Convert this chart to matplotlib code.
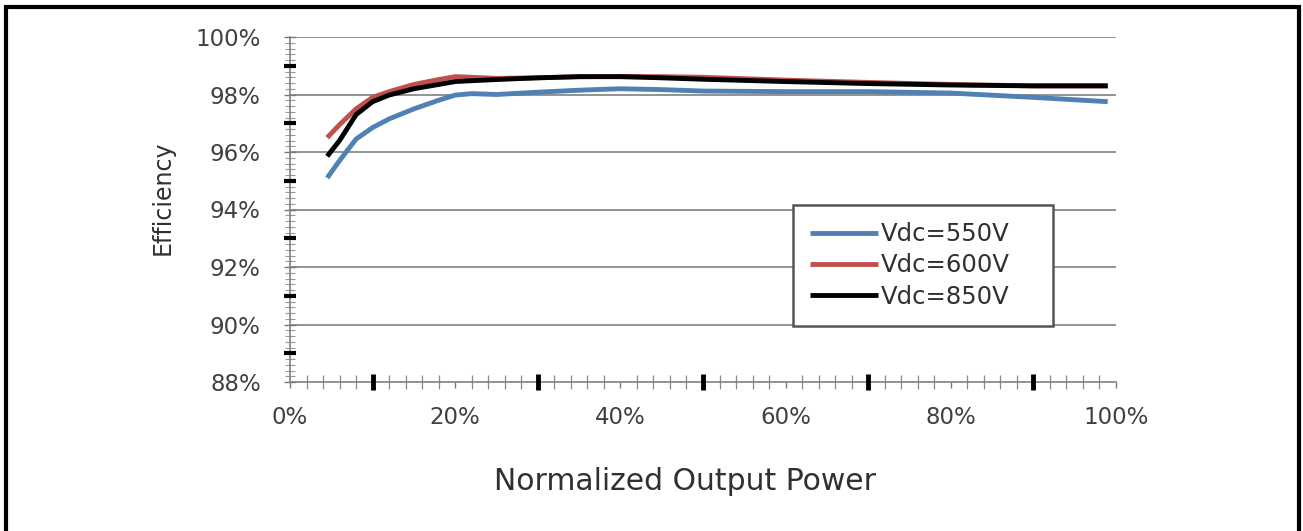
"""Inverter efficiency vs normalized output power."""

import matplotlib
matplotlib.use("Agg")
import matplotlib.pyplot as plt
from matplotlib.ticker import FixedLocator, FuncFormatter, NullFormatter
from matplotlib.patches import Rectangle
import numpy as np

# data
power = [4.5, 6, 8, 10, 12, 15, 18, 20, 22, 25, 30, 35, 40, 45, 50, 60, 70, 80, 90, 99]
eff_550 = [95.1, 95.7, 96.45, 96.85, 97.15, 97.5, 97.8, 97.98, 98.03, 98.0, 98.08, 98.15,
           98.2, 98.17, 98.12, 98.1, 98.1, 98.05, 97.9, 97.75]
eff_600 = [96.5, 96.95, 97.5, 97.9, 98.1, 98.35, 98.52, 98.62, 98.6, 98.56, 98.58, 98.62,
           98.63, 98.62, 98.6, 98.5, 98.42, 98.35, 98.3, 98.3]
eff_850 = [95.85, 96.4, 97.3, 97.75, 97.98, 98.2, 98.35, 98.45, 98.48, 98.52, 98.58, 98.62,
           98.62, 98.58, 98.53, 98.45, 98.38, 98.33, 98.3, 98.3]
labels = ["Vdc=550V", "Vdc=600V", "Vdc=850V"]
colors = ["#4f81b3", "#c0504d", "#000000"]

x_labels = [0, 20, 40, 60, 80, 100]
x_black = [10, 30, 50, 70, 90]
y_labels = [88, 90, 92, 94, 96, 98, 100]
y_black = [89, 91, 93, 95, 97, 99]

W, H = 1303, 531
fig = plt.figure(figsize=(W / 100, H / 100), dpi=100)
ax = fig.add_axes([290 / W, 1 - 382 / H, (1116 - 290) / W, (382 - 37) / H])

for y, c, lab in zip([eff_550, eff_600, eff_850], colors, labels):
    ax.plot(power, y, color=c, lw=3.5, label=lab, solid_capstyle="butt")

ax.set_xlim(0, 100)
ax.set_ylim(88, 100)

# minor ticks, skipping spots that carry a label or a black tick
x_minor = [v for v in np.arange(2, 100, 2) if v not in x_labels + x_black]
y_minor = [v for v in np.round(np.arange(88.2, 100, 0.2), 1) if v not in y_labels + y_black]

ax.yaxis.set_major_locator(FixedLocator(y_labels))
ax.yaxis.set_major_formatter(FuncFormatter(lambda v, p: f"{v:.0f}%"))
ax.yaxis.set_minor_locator(FixedLocator(y_minor))
ax.tick_params(axis="y", which="major", length=8, width=1, direction="inout",
               color="#777777", pad=17, labelsize=16.5, labelcolor="#404040")
ax.tick_params(axis="y", which="minor", length=7, width=0.8, direction="inout", color="#999999")
for v in y_labels[1:]:
    ax.axhline(v, color="#939393", lw=1.4, zorder=0)

ax.xaxis.set_major_locator(FixedLocator(x_labels))
ax.xaxis.set_major_formatter(FuncFormatter(lambda v, p: f"{v:.0f}%"))
ax.xaxis.set_minor_locator(FixedLocator(x_minor))
ax.tick_params(axis="x", which="major", length=4, width=1, direction="out",
               color="#777777", pad=13, labelsize=16.5, labelcolor="#404040")
ax.tick_params(axis="x", which="minor", length=10, width=0.9, direction="inout", color="#8a8a8a")

# thick black ticks at odd positions
sx = ax.secondary_xaxis("bottom")
sx.set_xticks(x_black)
sx.xaxis.set_major_formatter(NullFormatter())
sx.tick_params(length=11, width=3.5, direction="inout", color="black")
sx.spines["bottom"].set_visible(False)
sx.set_zorder(3)
sy = ax.secondary_yaxis("left")
sy.set_yticks(y_black)
sy.yaxis.set_major_formatter(NullFormatter())
sy.tick_params(length=8, width=3, direction="inout", color="black")
sy.spines["left"].set_visible(False)
sy.set_zorder(3)

for s in ["top", "right"]:
    ax.spines[s].set_visible(False)
for s in ["left", "bottom"]:
    ax.spines[s].set_color("#808080")
    ax.spines[s].set_linewidth(1.2)

ax.set_ylabel("Efficiency", fontsize=17, color="#303030", labelpad=15)
ax.yaxis.label.set_y(0.535)
ax.set_xlabel("Normalized Output Power", fontsize=21.5, color="#303030", labelpad=28)
ax.xaxis.label.set_x(0.478)

ax_w, ax_h = 1116 - 290, 382 - 37
leg = ax.legend(loc="upper left",
                bbox_to_anchor=((793 - 290) / ax_w, 1 - (330 - 37) / ax_h,
                                (1053 - 793) / ax_w, (330 - 205) / ax_h),
                mode="expand", fontsize=17.5, frameon=True, fancybox=False, framealpha=1,
                handlelength=2.8, handletextpad=0.1, labelspacing=0.3, borderaxespad=0,
                borderpad=0.7, labelcolor="#303030")
leg.get_frame().set_edgecolor("#555555")
leg.get_frame().set_linewidth(1.8)
leg.set_zorder(5)

# outer black frame
fig.patches.append(Rectangle((6 / W, -0.02), (1299 - 6) / W, 1 - 7 / H + 0.02,
                             transform=fig.transFigure, fill=False, ec="black", lw=3))

fig.savefig("out.png", dpi=100)
